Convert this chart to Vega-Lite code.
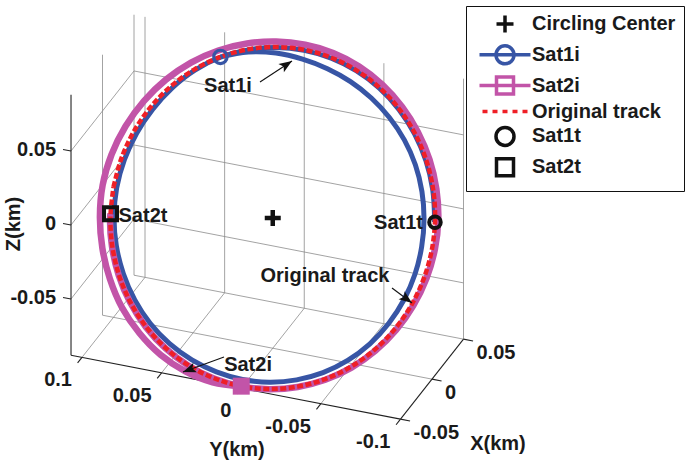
{
"$schema":"https://vega.github.io/schema/vega-lite/v6.json",
"width":685,"height":462,"autosize":{"type":"none"},"padding":0,"background":"white",
"config":{"view":{"stroke":null},"text":{"font":"Liberation Sans","fontWeight":"bold","fontSize":20,"color":"#1a1a1a"}},
"datasets":{
"grid":[
{"X1":0,"Y1":-0.1,"Z1":-0.088,"X2":0,"Y2":0.1069,"Z2":-0.088},
{"X1":0.05,"Y1":-0.1,"Z1":-0.088,"X2":0.05,"Y2":0.1069,"Z2":-0.088},
{"X1":-0.05,"Y1":0.1,"Z1":-0.088,"X2":0.05,"Y2":0.1,"Z2":-0.088},
{"X1":-0.05,"Y1":0.05,"Z1":-0.088,"X2":0.05,"Y2":0.05,"Z2":-0.088},
{"X1":-0.05,"Y1":0,"Z1":-0.088,"X2":0.05,"Y2":0,"Z2":-0.088},
{"X1":-0.05,"Y1":-0.05,"Z1":-0.088,"X2":0.05,"Y2":-0.05,"Z2":-0.088},
{"X1":0.05,"Y1":0.1069,"Z1":-0.088,"X2":0.05,"Y2":0.1069,"Z2":0.088},
{"X1":0.05,"Y1":0.1,"Z1":-0.088,"X2":0.05,"Y2":0.1,"Z2":0.088},
{"X1":0.05,"Y1":0.05,"Z1":-0.088,"X2":0.05,"Y2":0.05,"Z2":0.088},
{"X1":0.05,"Y1":0,"Z1":-0.088,"X2":0.05,"Y2":0,"Z2":0.088},
{"X1":0.05,"Y1":-0.05,"Z1":-0.088,"X2":0.05,"Y2":-0.05,"Z2":0.088},
{"X1":0.05,"Y1":-0.1,"Z1":-0.088,"X2":0.05,"Y2":-0.1,"Z2":0.088},
{"X1":0.05,"Y1":-0.1,"Z1":-0.05,"X2":0.05,"Y2":0.1069,"Z2":-0.05},
{"X1":0.05,"Y1":-0.1,"Z1":0,"X2":0.05,"Y2":0.1069,"Z2":0},
{"X1":0.05,"Y1":-0.1,"Z1":0.05,"X2":0.05,"Y2":0.1069,"Z2":0.05},
{"X1":0,"Y1":0.1069,"Z1":-0.088,"X2":0,"Y2":0.1069,"Z2":0.088},
{"X1":-0.05,"Y1":0.1069,"Z1":-0.05,"X2":0.05,"Y2":0.1069,"Z2":-0.05},
{"X1":-0.05,"Y1":0.1069,"Z1":0,"X2":0.05,"Y2":0.1069,"Z2":0},
{"X1":-0.05,"Y1":0.1069,"Z1":0.05,"X2":0.05,"Y2":0.1069,"Z2":0.05}
],
"axes":[
{"X1":-0.05,"Y1":0.1069,"Z1":-0.088,"X2":-0.05,"Y2":0.1069,"Z2":0.088},
{"X1":-0.05,"Y1":0.1069,"Z1":-0.088,"X2":-0.05,"Y2":-0.1,"Z2":-0.088},
{"X1":-0.05,"Y1":-0.1,"Z1":-0.088,"X2":0.05,"Y2":-0.1,"Z2":-0.088},
{"X1":-0.05,"Y1":0.1069,"Z1":0.05,"X2":-0.05,"Y2":0.1119,"Z2":0.05},
{"X1":-0.05,"Y1":0.1069,"Z1":0,"X2":-0.05,"Y2":0.1119,"Z2":0},
{"X1":-0.05,"Y1":0.1069,"Z1":-0.05,"X2":-0.05,"Y2":0.1119,"Z2":-0.05},
{"X1":-0.05,"Y1":0.1,"Z1":-0.088,"X2":-0.057,"Y2":0.1,"Z2":-0.088},
{"X1":-0.05,"Y1":0.05,"Z1":-0.088,"X2":-0.057,"Y2":0.05,"Z2":-0.088},
{"X1":-0.05,"Y1":0,"Z1":-0.088,"X2":-0.057,"Y2":0,"Z2":-0.088},
{"X1":-0.05,"Y1":-0.05,"Z1":-0.088,"X2":-0.057,"Y2":-0.05,"Z2":-0.088},
{"X1":-0.05,"Y1":-0.1,"Z1":-0.088,"X2":-0.057,"Y2":-0.1,"Z2":-0.088},
{"X1":-0.05,"Y1":-0.1,"Z1":-0.088,"X2":-0.05,"Y2":-0.106,"Z2":-0.088},
{"X1":0,"Y1":-0.1,"Z1":-0.088,"X2":0,"Y2":-0.106,"Z2":-0.088},
{"X1":0.05,"Y1":-0.1,"Z1":-0.088,"X2":0.05,"Y2":-0.106,"Z2":-0.088}
],
"traj":[
{"s":"b","i":0,"X":0.0433,"Y":0.05,"Z":0.075},
{"s":"b","i":1,"X":0.04628,"Y":0.03369,"Z":0.08016},
{"s":"b","i":2,"X":0.04752,"Y":0.01676,"Z":0.0823},
{"s":"b","i":3,"X":0.04725,"Y":0,"Z":0.08184},
{"s":"b","i":4,"X":0.04589,"Y":-0.01618,"Z":0.07949},
{"s":"b","i":5,"X":0.04346,"Y":-0.03164,"Z":0.07528},
{"s":"b","i":6,"X":0.03992,"Y":-0.0461,"Z":0.06915},
{"s":"b","i":7,"X":0.03531,"Y":-0.05927,"Z":0.06117},
{"s":"b","i":8,"X":0.02973,"Y":-0.07086,"Z":0.05149},
{"s":"b","i":9,"X":0.0232,"Y":-0.08037,"Z":0.04018},
{"s":"b","i":10,"X":0.0159,"Y":-0.08739,"Z":0.02755},
{"s":"b","i":11,"X":0.00809,"Y":-0.09178,"Z":0.01402},
{"s":"b","i":12,"X":0,"Y":-0.0935,"Z":0},
{"s":"b","i":13,"X":-0.00816,"Y":-0.09257,"Z":-0.01414},
{"s":"b","i":14,"X":-0.01616,"Y":-0.0888,"Z":-0.02799},
{"s":"b","i":15,"X":-0.02375,"Y":-0.08227,"Z":-0.04114},
{"s":"b","i":16,"X":-0.03069,"Y":-0.07316,"Z":-0.05316},
{"s":"b","i":17,"X":-0.03669,"Y":-0.06158,"Z":-0.06356},
{"s":"b","i":18,"X":-0.04157,"Y":-0.048,"Z":-0.072},
{"s":"b","i":19,"X":-0.04511,"Y":-0.03283,"Z":-0.07812},
{"s":"b","i":20,"X":-0.04727,"Y":-0.01667,"Z":-0.08188},
{"s":"b","i":21,"X":-0.048,"Y":0,"Z":-0.08314},
{"s":"b","i":22,"X":-0.04727,"Y":0.01667,"Z":-0.08188},
{"s":"b","i":23,"X":-0.0452,"Y":0.0329,"Z":-0.07829},
{"s":"b","i":24,"X":-0.04179,"Y":0.04825,"Z":-0.07238},
{"s":"b","i":25,"X":-0.03708,"Y":0.06222,"Z":-0.06422},
{"s":"b","i":26,"X":-0.03118,"Y":0.07431,"Z":-0.054},
{"s":"b","i":27,"X":-0.0243,"Y":0.08418,"Z":-0.04209},
{"s":"b","i":28,"X":-0.01667,"Y":0.09162,"Z":-0.02888},
{"s":"b","i":29,"X":-0.00849,"Y":0.09631,"Z":-0.01471},
{"s":"b","i":30,"X":0,"Y":0.098,"Z":0},
{"s":"b","i":31,"X":0.00851,"Y":0.09651,"Z":0.01474},
{"s":"b","i":32,"X":0.01676,"Y":0.09209,"Z":0.02903},
{"s":"b","i":33,"X":0.02455,"Y":0.08504,"Z":0.04252},
{"s":"b","i":34,"X":0.03175,"Y":0.07569,"Z":0.055},
{"s":"b","i":35,"X":0.03811,"Y":0.06396,"Z":0.06601},
{"s":"b","i":36,"X":0.04322,"Y":0.0499,"Z":0.07485},
{"s":"b","i":37,"X":0.04684,"Y":0.0341,"Z":0.08114},
{"s":"b","i":38,"X":0.04909,"Y":0.01731,"Z":0.08503},
{"s":"b","i":39,"X":0.04985,"Y":0,"Z":0.08634},
{"s":"b","i":40,"X":0.04909,"Y":-0.01731,"Z":0.08503},
{"s":"b","i":41,"X":0.04684,"Y":-0.0341,"Z":0.08114},
{"s":"b","i":42,"X":0.04317,"Y":-0.04985,"Z":0.07478},
{"s":"b","i":43,"X":0.03819,"Y":-0.06409,"Z":0.06614},
{"s":"b","i":44,"X":0.03204,"Y":-0.07637,"Z":0.0555},
{"s":"b","i":45,"X":0.02493,"Y":-0.08634,"Z":0.04317},
{"s":"b","i":46,"X":0.01705,"Y":-0.09369,"Z":0.02953},
{"s":"b","i":47,"X":0.00866,"Y":-0.09819,"Z":0.01499},
{"s":"b","i":48,"X":0.0078,"Y":-0.09847,"Z":0.01351},
{"s":"p","i":0,"X":-0.05,"Y":0,"Z":-0.0866},
{"s":"p","i":1,"X":-0.05047,"Y":0.0178,"Z":-0.08742},
{"s":"p","i":2,"X":-0.04886,"Y":0.03557,"Z":-0.08464},
{"s":"p","i":3,"X":-0.04547,"Y":0.0525,"Z":-0.07875},
{"s":"p","i":4,"X":-0.04041,"Y":0.06781,"Z":-0.06999},
{"s":"p","i":5,"X":-0.03407,"Y":0.0812,"Z":-0.05901},
{"s":"p","i":6,"X":-0.0265,"Y":0.0918,"Z":-0.0459},
{"s":"p","i":7,"X":-0.01816,"Y":0.0998,"Z":-0.03146},
{"s":"p","i":8,"X":-0.00925,"Y":0.10488,"Z":-0.01602},
{"s":"p","i":9,"X":0,"Y":0.1068,"Z":0},
{"s":"p","i":10,"X":0.00925,"Y":0.10488,"Z":0.01602},
{"s":"p","i":11,"X":0.01813,"Y":0.09961,"Z":0.0314},
{"s":"p","i":12,"X":0.02638,"Y":0.09137,"Z":0.04568},
{"s":"p","i":13,"X":0.03375,"Y":0.08043,"Z":0.05845},
{"s":"p","i":14,"X":0.04003,"Y":0.06717,"Z":0.06933},
{"s":"p","i":15,"X":0.04503,"Y":0.052,"Z":0.078},
{"s":"p","i":16,"X":0.04863,"Y":0.0354,"Z":0.08423},
{"s":"p","i":17,"X":0.05082,"Y":0.01792,"Z":0.08802},
{"s":"p","i":18,"X":0.0515,"Y":0,"Z":0.0892},
{"s":"p","i":19,"X":0.05072,"Y":-0.01789,"Z":0.08785},
{"s":"p","i":20,"X":0.0483,"Y":-0.03516,"Z":0.08366},
{"s":"p","i":21,"X":0.04438,"Y":-0.05125,"Z":0.07688},
{"s":"p","i":22,"X":0.03914,"Y":-0.06569,"Z":0.0678},
{"s":"p","i":23,"X":0.03278,"Y":-0.07814,"Z":0.05678},
{"s":"p","i":24,"X":0.0255,"Y":-0.08834,"Z":0.04417},
{"s":"p","i":25,"X":0.01744,"Y":-0.09585,"Z":0.03021},
{"s":"p","i":26,"X":0.00886,"Y":-0.10045,"Z":0.01534},
{"s":"p","i":27,"X":0,"Y":-0.1018,"Z":0},
{"s":"p","i":28,"X":-0.00881,"Y":-0.09996,"Z":-0.01526},
{"s":"p","i":29,"X":-0.01731,"Y":-0.0951,"Z":-0.02998},
{"s":"p","i":30,"X":-0.02525,"Y":-0.08747,"Z":-0.04373},
{"s":"p","i":31,"X":-0.0324,"Y":-0.07722,"Z":-0.05611},
{"s":"p","i":32,"X":-0.03853,"Y":-0.06467,"Z":-0.06674},
{"s":"p","i":33,"X":-0.04347,"Y":-0.0502,"Z":-0.0753},
{"s":"p","i":34,"X":-0.04708,"Y":-0.03427,"Z":-0.08154},
{"s":"p","i":35,"X":-0.04929,"Y":-0.01738,"Z":-0.08537},
{"s":"p","i":36,"X":-0.0501,"Y":0,"Z":-0.08677},
{"s":"p","i":37,"X":-0.04934,"Y":0.0174,"Z":-0.08546},
{"s":"p","i":38,"X":-0.04708,"Y":0.03427,"Z":-0.08154},
{"s":"p","i":39,"X":-0.04339,"Y":0.0501,"Z":-0.07515},
{"s":"p","i":40,"X":-0.03838,"Y":0.06441,"Z":-0.06647},
{"s":"p","i":41,"X":-0.0322,"Y":0.07676,"Z":-0.05578},
{"s":"p","i":42,"X":-0.02505,"Y":0.08678,"Z":-0.04339},
{"s":"p","i":43,"X":-0.01714,"Y":0.09416,"Z":-0.02968},
{"s":"p","i":44,"X":-0.0087,"Y":0.09868,"Z":-0.01507},
{"s":"p","i":45,"X":-0.00782,"Y":0.09877,"Z":-0.01355},
{"s":"r","i":0,"X":0,"Y":0.1,"Z":0},
{"s":"r","i":1,"X":0.00868,"Y":0.09848,"Z":0.01504},
{"s":"r","i":2,"X":0.0171,"Y":0.09397,"Z":0.02962},
{"s":"r","i":3,"X":0.025,"Y":0.0866,"Z":0.0433},
{"s":"r","i":4,"X":0.03214,"Y":0.0766,"Z":0.05567},
{"s":"r","i":5,"X":0.0383,"Y":0.06428,"Z":0.06634},
{"s":"r","i":6,"X":0.0433,"Y":0.05,"Z":0.075},
{"s":"r","i":7,"X":0.04698,"Y":0.0342,"Z":0.08138},
{"s":"r","i":8,"X":0.04924,"Y":0.01736,"Z":0.08529},
{"s":"r","i":9,"X":0.05,"Y":0,"Z":0.0866},
{"s":"r","i":10,"X":0.04924,"Y":-0.01736,"Z":0.08529},
{"s":"r","i":11,"X":0.04698,"Y":-0.0342,"Z":0.08138},
{"s":"r","i":12,"X":0.0433,"Y":-0.05,"Z":0.075},
{"s":"r","i":13,"X":0.0383,"Y":-0.06428,"Z":0.06634},
{"s":"r","i":14,"X":0.03214,"Y":-0.0766,"Z":0.05567},
{"s":"r","i":15,"X":0.025,"Y":-0.0866,"Z":0.0433},
{"s":"r","i":16,"X":0.0171,"Y":-0.09397,"Z":0.02962},
{"s":"r","i":17,"X":0.00868,"Y":-0.09848,"Z":0.01504},
{"s":"r","i":18,"X":0,"Y":-0.1,"Z":0},
{"s":"r","i":19,"X":-0.00868,"Y":-0.09848,"Z":-0.01504},
{"s":"r","i":20,"X":-0.0171,"Y":-0.09397,"Z":-0.02962},
{"s":"r","i":21,"X":-0.025,"Y":-0.0866,"Z":-0.0433},
{"s":"r","i":22,"X":-0.03214,"Y":-0.0766,"Z":-0.05567},
{"s":"r","i":23,"X":-0.0383,"Y":-0.06428,"Z":-0.06634},
{"s":"r","i":24,"X":-0.0433,"Y":-0.05,"Z":-0.075},
{"s":"r","i":25,"X":-0.04698,"Y":-0.0342,"Z":-0.08138},
{"s":"r","i":26,"X":-0.04924,"Y":-0.01736,"Z":-0.08529},
{"s":"r","i":27,"X":-0.05,"Y":0,"Z":-0.0866},
{"s":"r","i":28,"X":-0.04924,"Y":0.01736,"Z":-0.08529},
{"s":"r","i":29,"X":-0.04698,"Y":0.0342,"Z":-0.08138},
{"s":"r","i":30,"X":-0.0433,"Y":0.05,"Z":-0.075},
{"s":"r","i":31,"X":-0.0383,"Y":0.06428,"Z":-0.06634},
{"s":"r","i":32,"X":-0.03214,"Y":0.0766,"Z":-0.05567},
{"s":"r","i":33,"X":-0.025,"Y":0.0866,"Z":-0.0433},
{"s":"r","i":34,"X":-0.0171,"Y":0.09397,"Z":-0.02962},
{"s":"r","i":35,"X":-0.00868,"Y":0.09848,"Z":-0.01504},
{"s":"r","i":36,"X":0,"Y":0.1,"Z":0}
],
"markers":[
{"series":"Circling Center","X":0,"Y":0,"Z":0},
{"series":"Sat1i","X":0.0433,"Y":0.05,"Z":0.075},
{"series":"Sat2i","X":-0.05,"Y":0,"Z":-0.0866},
{"series":"Sat1t","X":0.00782,"Y":-0.09877,"Z":0.01355},
{"series":"Sat2t","X":-0.00782,"Y":0.09877,"Z":-0.01355}
],
"zlab":[{"X":-0.05,"Y":0.1069,"Z":0.05,"t":"0.05"},{"X":-0.05,"Y":0.1069,"Z":0,"t":"0"},{"X":-0.05,"Y":0.1069,"Z":-0.05,"t":"-0.05"}],
"ylab":[{"X":-0.05,"Y":0.1,"Z":-0.088,"t":"0.1"},{"X":-0.05,"Y":0.05,"Z":-0.088,"t":"0.05"},{"X":-0.05,"Y":0,"Z":-0.088,"t":"0"},{"X":-0.05,"Y":-0.05,"Z":-0.088,"t":"-0.05"},{"X":-0.05,"Y":-0.1,"Z":-0.088,"t":"-0.1"}],
"xlab":[{"X":-0.05,"Y":-0.1,"Z":-0.088,"t":"-0.05"},{"X":0,"Y":-0.1,"Z":-0.088,"t":"0"},{"X":0.05,"Y":-0.1,"Z":-0.088,"t":"0.05"}],
"titles":[{"t":"Z(km)","X":-0.05,"Y":0.1427,"Z":-0.0068},{"t":"Y(km)","X":-0.05,"Y":0.00267,"Z":-0.1303},{"t":"X(km)","X":0,"Y":-0.14144,"Z":-0.12317}],
"notes":[{"t":"Sat1i","X":0,"Y":0.0281,"Z":0.0833},{"t":"Original track","X":0,"Y":-0.0328,"Z":-0.0323},{"t":"Sat2i","X":0,"Y":0.0155,"Z":-0.1026}],
"arrows":[
{"X1":0,"Y1":0.00801,"Z1":0.09022,"X2":0,"Y2":-0.01209,"Z2":0.10861},
{"X1":0,"Y1":-0.07488,"Z1":-0.03166,"X2":0,"Y2":-0.08744,"Z2":-0.03918},
{"X1":0,"Y1":0.03061,"Z1":-0.10031,"X2":0,"Y2":0.05636,"Z2":-0.11582}
]
},
"layer":[
{"data":{"name":"grid"},
 "transform":[{"calculate":"630*datum.X1-1592.5*datum.Y1","as":"px"},{"calculate":"800*datum.X1+309*datum.Y1+1480*datum.Z1","as":"py"},{"calculate":"630*datum.X2-1592.5*datum.Y2","as":"px2"},{"calculate":"800*datum.X2+309*datum.Y2+1480*datum.Z2","as":"py2"}],
 "mark":{"type":"rule","color":"#8c8c8c","strokeWidth":0.8},
 "encoding":{"x":{"field":"px","type":"quantitative","scale":{"domain":[-272.75,412.25],"nice":false,"zero":false},"axis":null},"y":{"field":"py","type":"quantitative","scale":{"domain":[-244,218],"nice":false,"zero":false},"axis":null},"x2":{"field":"px2"},"y2":{"field":"py2"}}},
{"data":{"name":"axes"},
 "transform":[{"calculate":"630*datum.X1-1592.5*datum.Y1","as":"px"},{"calculate":"800*datum.X1+309*datum.Y1+1480*datum.Z1","as":"py"},{"calculate":"630*datum.X2-1592.5*datum.Y2","as":"px2"},{"calculate":"800*datum.X2+309*datum.Y2+1480*datum.Z2","as":"py2"}],
 "mark":{"type":"rule","color":"#222222","strokeWidth":1.1},
 "encoding":{"x":{"field":"px","type":"quantitative","scale":{"domain":[-272.75,412.25],"nice":false,"zero":false},"axis":null},"y":{"field":"py","type":"quantitative","scale":{"domain":[-244,218],"nice":false,"zero":false},"axis":null},"x2":{"field":"px2"},"y2":{"field":"py2"}}},
{"data":{"name":"traj"},
 "transform":[{"filter":"datum.s=='b'"},{"calculate":"630*datum.X-1592.5*datum.Y","as":"px"},{"calculate":"800*datum.X+309*datum.Y+1480*datum.Z","as":"py"}],
 "mark":{"type":"line","color":"#3755a5","strokeWidth":5,"strokeJoin":"round","interpolate":"catmull-rom"},
 "encoding":{"x":{"field":"px","type":"quantitative","scale":{"domain":[-272.75,412.25],"nice":false,"zero":false},"axis":null},"y":{"field":"py","type":"quantitative","scale":{"domain":[-244,218],"nice":false,"zero":false},"axis":null},"order":{"field":"i","type":"quantitative"}}},
{"data":{"name":"traj"},
 "transform":[{"filter":"datum.s=='p'"},{"calculate":"630*datum.X-1592.5*datum.Y","as":"px"},{"calculate":"800*datum.X+309*datum.Y+1480*datum.Z","as":"py"}],
 "mark":{"type":"line","color":"#c254a8","strokeWidth":6.5,"strokeJoin":"round","interpolate":"catmull-rom"},
 "encoding":{"x":{"field":"px","type":"quantitative","scale":{"domain":[-272.75,412.25],"nice":false,"zero":false},"axis":null},"y":{"field":"py","type":"quantitative","scale":{"domain":[-244,218],"nice":false,"zero":false},"axis":null},"order":{"field":"i","type":"quantitative"}}},
{"data":{"name":"traj"},
 "transform":[{"filter":"datum.s=='r'"},{"calculate":"630*datum.X-1592.5*datum.Y","as":"px"},{"calculate":"800*datum.X+309*datum.Y+1480*datum.Z","as":"py"}],
 "mark":{"type":"line","color":"#ef1f26","strokeWidth":4.5,"strokeDash":[6,2.5],"interpolate":"catmull-rom"},
 "encoding":{"x":{"field":"px","type":"quantitative","scale":{"domain":[-272.75,412.25],"nice":false,"zero":false},"axis":null},"y":{"field":"py","type":"quantitative","scale":{"domain":[-244,218],"nice":false,"zero":false},"axis":null},"order":{"field":"i","type":"quantitative"}}},
{"data":{"name":"markers"},
 "transform":[{"filter":"false"},{"calculate":"630*datum.X-1592.5*datum.Y","as":"px"},{"calculate":"800*datum.X+309*datum.Y+1480*datum.Z","as":"py"}],
 "mark":{"type":"point","filled":false,"opacity":1,"strokeWidth":3.5},
 "encoding":{"x":{"field":"px","type":"quantitative","scale":{"domain":[-272.75,412.25],"nice":false,"zero":false},"axis":null},"y":{"field":"py","type":"quantitative","scale":{"domain":[-244,218],"nice":false,"zero":false},"axis":null},
  "color":{"field":"series","type":"nominal","scale":{"domain":["Circling Center","Sat1i","Sat2i","Original track","Sat1t","Sat2t"],"range":["#111111","#3755a5","#c254a8","#ef1f26","#111111","#111111"]},
   "legend":{"title":null,"orient":"none","legendX":466,"legendY":6,"strokeColor":"#111111","fillColor":"#ffffff","padding":8,"symbolSize":100,"symbolStrokeWidth":3.5,"symbolOffset":21,"labelOffset":17,"labelFont":"Liberation Sans","labelFontSize":20,"labelFontWeight":"bold","labelColor":"#1a1a1a","rowPadding":-1.2,"labelLimit":300,"symbolOpacity":1}},
  "shape":{"field":"series","type":"nominal","scale":{"domain":["Circling Center","Sat1i","Sat2i","Original track","Sat1t","Sat2t"],"range":["M-1.7,0L1.7,0M0,-1.7L0,1.7","M-5.1,0L5.1,0M1.8,0A1.8,1.8,0,1,1,-1.8,0A1.8,1.8,0,1,1,1.8,0","M-5.1,0L5.1,0M-1.7,-1.7L1.7,-1.7L1.7,1.7L-1.7,1.7Z","M-4.5,0L-3.5,0M-2.5,0L-1.5,0M-0.5,0L0.5,0M1.5,0L2.5,0M3.5,0L4.5,0","M1.8,0A1.8,1.8,0,1,1,-1.8,0A1.8,1.8,0,1,1,1.8,0","M-1.7,-1.7L1.7,-1.7L1.7,1.7L-1.7,1.7Z"]}}}},
{"data":{"name":"markers"},
 "transform":[{"filter":"datum.series=='Circling Center'"},{"calculate":"630*datum.X-1592.5*datum.Y","as":"px"},{"calculate":"800*datum.X+309*datum.Y+1480*datum.Z","as":"py"}],
 "mark":{"type":"point","shape":"M-1,0L1,0M0,-1L0,1","size":256,"filled":false,"color":"#111111","strokeWidth":4.5,"opacity":1},
 "encoding":{"x":{"field":"px","type":"quantitative","scale":{"domain":[-272.75,412.25],"nice":false,"zero":false},"axis":null},"y":{"field":"py","type":"quantitative","scale":{"domain":[-244,218],"nice":false,"zero":false},"axis":null}}},
{"data":{"name":"markers"},
 "transform":[{"filter":"datum.series=='Sat1i'"},{"calculate":"630*datum.X-1592.5*datum.Y","as":"px"},{"calculate":"800*datum.X+309*datum.Y+1480*datum.Z","as":"py"}],
 "mark":{"type":"point","shape":"circle","size":177,"filled":false,"color":"#3755a5","strokeWidth":3.2,"opacity":1},
 "encoding":{"x":{"field":"px","type":"quantitative","scale":{"domain":[-272.75,412.25],"nice":false,"zero":false},"axis":null},"y":{"field":"py","type":"quantitative","scale":{"domain":[-244,218],"nice":false,"zero":false},"axis":null}}},
{"data":{"name":"markers"},
 "transform":[{"filter":"datum.series=='Sat2i'"},{"calculate":"630*datum.X-1592.5*datum.Y","as":"px"},{"calculate":"800*datum.X+309*datum.Y+1480*datum.Z","as":"py"}],
 "mark":{"type":"point","shape":"square","size":289,"filled":true,"color":"#c254a8","opacity":1},
 "encoding":{"x":{"field":"px","type":"quantitative","scale":{"domain":[-272.75,412.25],"nice":false,"zero":false},"axis":null},"y":{"field":"py","type":"quantitative","scale":{"domain":[-244,218],"nice":false,"zero":false},"axis":null}}},
{"data":{"name":"markers"},
 "transform":[{"filter":"datum.series=='Sat1t'"},{"calculate":"630*datum.X-1592.5*datum.Y","as":"px"},{"calculate":"800*datum.X+309*datum.Y+1480*datum.Z","as":"py"}],
 "mark":{"type":"point","shape":"circle","size":133,"filled":false,"color":"#111111","strokeWidth":4,"opacity":1},
 "encoding":{"x":{"field":"px","type":"quantitative","scale":{"domain":[-272.75,412.25],"nice":false,"zero":false},"axis":null},"y":{"field":"py","type":"quantitative","scale":{"domain":[-244,218],"nice":false,"zero":false},"axis":null}}},
{"data":{"name":"markers"},
 "transform":[{"filter":"datum.series=='Sat2t'"},{"calculate":"630*datum.X-1592.5*datum.Y","as":"px"},{"calculate":"800*datum.X+309*datum.Y+1480*datum.Z","as":"py"}],
 "mark":{"type":"point","shape":"square","size":169,"filled":false,"color":"#111111","strokeWidth":4,"opacity":1},
 "encoding":{"x":{"field":"px","type":"quantitative","scale":{"domain":[-272.75,412.25],"nice":false,"zero":false},"axis":null},"y":{"field":"py","type":"quantitative","scale":{"domain":[-244,218],"nice":false,"zero":false},"axis":null}}},
{"data":{"name":"markers"},
 "transform":[{"filter":"datum.series=='Sat1t'"},{"calculate":"630*datum.X-1592.5*datum.Y","as":"px"},{"calculate":"800*datum.X+309*datum.Y+1480*datum.Z","as":"py"}],
 "mark":{"type":"text","align":"right","baseline":"middle","dx":-12,"dy":1},
 "encoding":{"x":{"field":"px","type":"quantitative","scale":{"domain":[-272.75,412.25],"nice":false,"zero":false},"axis":null},"y":{"field":"py","type":"quantitative","scale":{"domain":[-244,218],"nice":false,"zero":false},"axis":null},"text":{"field":"series"}}},
{"data":{"name":"markers"},
 "transform":[{"filter":"datum.series=='Sat2t'"},{"calculate":"630*datum.X-1592.5*datum.Y","as":"px"},{"calculate":"800*datum.X+309*datum.Y+1480*datum.Z","as":"py"}],
 "mark":{"type":"text","align":"left","baseline":"middle","dx":8,"dy":2},
 "encoding":{"x":{"field":"px","type":"quantitative","scale":{"domain":[-272.75,412.25],"nice":false,"zero":false},"axis":null},"y":{"field":"py","type":"quantitative","scale":{"domain":[-244,218],"nice":false,"zero":false},"axis":null},"text":{"field":"series"}}},
{"data":{"name":"zlab"},
 "transform":[{"calculate":"630*datum.X-1592.5*datum.Y","as":"px"},{"calculate":"800*datum.X+309*datum.Y+1480*datum.Z","as":"py"}],
 "mark":{"type":"text","align":"right","baseline":"middle","dx":-15,"dy":-1},
 "encoding":{"x":{"field":"px","type":"quantitative","scale":{"domain":[-272.75,412.25],"nice":false,"zero":false},"axis":null},"y":{"field":"py","type":"quantitative","scale":{"domain":[-244,218],"nice":false,"zero":false},"axis":null},"text":{"field":"t"}}},
{"data":{"name":"ylab"},
 "transform":[{"calculate":"630*datum.X-1592.5*datum.Y","as":"px"},{"calculate":"800*datum.X+309*datum.Y+1480*datum.Z","as":"py"}],
 "mark":{"type":"text","align":"right","baseline":"middle","dx":-10,"dy":23},
 "encoding":{"x":{"field":"px","type":"quantitative","scale":{"domain":[-272.75,412.25],"nice":false,"zero":false},"axis":null},"y":{"field":"py","type":"quantitative","scale":{"domain":[-244,218],"nice":false,"zero":false},"axis":null},"text":{"field":"t"}}},
{"data":{"name":"xlab"},
 "transform":[{"calculate":"630*datum.X-1592.5*datum.Y","as":"px"},{"calculate":"800*datum.X+309*datum.Y+1480*datum.Z","as":"py"}],
 "mark":{"type":"text","align":"left","baseline":"middle","dx":13,"dy":14},
 "encoding":{"x":{"field":"px","type":"quantitative","scale":{"domain":[-272.75,412.25],"nice":false,"zero":false},"axis":null},"y":{"field":"py","type":"quantitative","scale":{"domain":[-244,218],"nice":false,"zero":false},"axis":null},"text":{"field":"t"}}},
{"data":{"name":"titles"},
 "transform":[{"filter":"datum.t!='Z(km)'"},{"calculate":"630*datum.X-1592.5*datum.Y","as":"px"},{"calculate":"800*datum.X+309*datum.Y+1480*datum.Z","as":"py"}],
 "mark":{"type":"text","align":"center","baseline":"middle"},
 "encoding":{"x":{"field":"px","type":"quantitative","scale":{"domain":[-272.75,412.25],"nice":false,"zero":false},"axis":null},"y":{"field":"py","type":"quantitative","scale":{"domain":[-244,218],"nice":false,"zero":false},"axis":null},"text":{"field":"t"}}},
{"data":{"name":"titles"},
 "transform":[{"filter":"datum.t=='Z(km)'"},{"calculate":"630*datum.X-1592.5*datum.Y","as":"px"},{"calculate":"800*datum.X+309*datum.Y+1480*datum.Z","as":"py"}],
 "mark":{"type":"text","align":"center","baseline":"middle","angle":270},
 "encoding":{"x":{"field":"px","type":"quantitative","scale":{"domain":[-272.75,412.25],"nice":false,"zero":false},"axis":null},"y":{"field":"py","type":"quantitative","scale":{"domain":[-244,218],"nice":false,"zero":false},"axis":null},"text":{"field":"t"}}},
{"data":{"name":"notes"},
 "transform":[{"calculate":"630*datum.X-1592.5*datum.Y","as":"px"},{"calculate":"800*datum.X+309*datum.Y+1480*datum.Z","as":"py"}],
 "mark":{"type":"text","align":"center","baseline":"middle"},
 "encoding":{"x":{"field":"px","type":"quantitative","scale":{"domain":[-272.75,412.25],"nice":false,"zero":false},"axis":null},"y":{"field":"py","type":"quantitative","scale":{"domain":[-244,218],"nice":false,"zero":false},"axis":null},"text":{"field":"t"}}},
{"data":{"name":"arrows"},
 "transform":[{"calculate":"630*datum.X1-1592.5*datum.Y1","as":"px"},{"calculate":"800*datum.X1+309*datum.Y1+1480*datum.Z1","as":"py"},{"calculate":"630*datum.X2-1592.5*datum.Y2","as":"px2"},{"calculate":"800*datum.X2+309*datum.Y2+1480*datum.Z2","as":"py2"}],
 "mark":{"type":"rule","color":"#111111","strokeWidth":1.1},
 "encoding":{"x":{"field":"px","type":"quantitative","scale":{"domain":[-272.75,412.25],"nice":false,"zero":false},"axis":null},"y":{"field":"py","type":"quantitative","scale":{"domain":[-244,218],"nice":false,"zero":false},"axis":null},"x2":{"field":"px2"},"y2":{"field":"py2"}}},
{"data":{"name":"arrows"},
 "transform":[{"calculate":"630*datum.X1-1592.5*datum.Y1","as":"ax"},{"calculate":"800*datum.X1+309*datum.Y1+1480*datum.Z1","as":"ay"},{"calculate":"630*datum.X2-1592.5*datum.Y2","as":"px"},{"calculate":"800*datum.X2+309*datum.Y2+1480*datum.Z2","as":"py"},{"calculate":"atan2(datum.px-datum.ax,datum.py-datum.ay)*180/PI","as":"ang"}],
 "mark":{"type":"point","shape":"M0,0L1,2.6L0,2L-1,2.6Z","size":100,"filled":true,"color":"#111111","opacity":1},
 "encoding":{"x":{"field":"px","type":"quantitative","scale":{"domain":[-272.75,412.25],"nice":false,"zero":false},"axis":null},"y":{"field":"py","type":"quantitative","scale":{"domain":[-244,218],"nice":false,"zero":false},"axis":null},"angle":{"field":"ang","type":"quantitative","scale":null}}}
]
}
